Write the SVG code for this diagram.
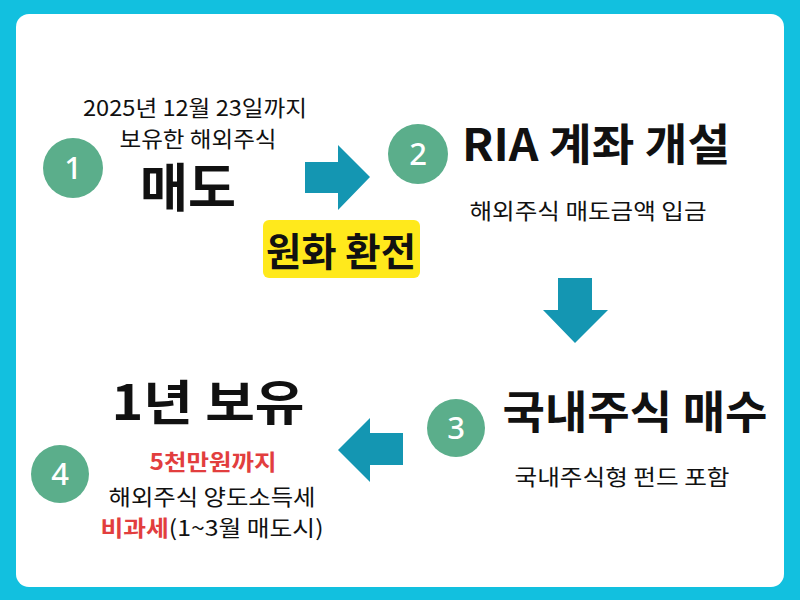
<svg xmlns="http://www.w3.org/2000/svg" width="800" height="600" viewBox="0 0 800 600">
<style>
text{font-family:"Noto Sans CJK KR","Noto Sans",sans-serif;text-anchor:middle;fill:#111}
.num{fill:#fff;font-size:31px;font-weight:500;font-family:"Noto Sans","Noto Sans CJK KR",sans-serif}
.circ{fill:#5BAE8B}
.arrow{fill:#1496B2}
.big{font-weight:700}
.sm{font-size:22px}
.red{fill:#E23E3E;font-weight:700}
</style>
<rect x="0" y="0" width="800" height="600" fill="#12C0DF"/>
<rect x="16" y="14" width="768" height="573" rx="13" fill="#fff"/>
<g id="node1">
<circle class="circ" cx="73" cy="168" r="30"/>
<text class="num" x="73" y="179">1</text>
<text class="sm" x="195" y="116" textLength="224" lengthAdjust="spacingAndGlyphs">2025년 12월 23일까지</text>
<text class="sm" x="198" y="147" textLength="157" lengthAdjust="spacingAndGlyphs">보유한 해외주식</text>
<text class="big" x="188" y="207" font-size="52" textLength="96" lengthAdjust="spacingAndGlyphs">매도</text>
</g>
<g id="node2">
<circle class="circ" cx="418" cy="154" r="30"/>
<text class="num" x="418" y="165">2</text>
<text class="big" x="596" y="161" font-size="44" textLength="268" lengthAdjust="spacingAndGlyphs">RIA 계좌 개설</text>
<text class="sm" x="588" y="219" textLength="237" lengthAdjust="spacingAndGlyphs">해외주식 매도금액 입금</text>
</g>
<g id="node3">
<circle class="circ" cx="456" cy="428" r="29"/>
<text class="num" x="456" y="439">3</text>
<text class="big" x="635" y="429" font-size="45" textLength="265" lengthAdjust="spacingAndGlyphs">국내주식 매수</text>
<text class="sm" x="622" y="485" textLength="215" lengthAdjust="spacingAndGlyphs">국내주식형 펀드 포함</text>
</g>
<g id="node4">
<circle class="circ" cx="60" cy="474" r="29"/>
<text class="num" x="60" y="485">4</text>
<text class="big" x="208" y="420" font-size="48" textLength="193" lengthAdjust="spacingAndGlyphs">1년 보유</text>
<text class="sm red" x="213" y="470" textLength="127" lengthAdjust="spacingAndGlyphs">5천만원까지</text>
<text class="sm" x="212" y="505" textLength="207" lengthAdjust="spacingAndGlyphs">해외주식 양도소득세</text>
<text class="sm" x="212" y="536" textLength="223" lengthAdjust="spacingAndGlyphs"><tspan class="red">비과세</tspan>(1~3월 매도시)</text>
</g>
<g id="exchange">
<rect x="263" y="220" width="157" height="58" rx="6" fill="#FFE91C"/>
<text class="big" x="341" y="266" font-size="39" textLength="150" lengthAdjust="spacingAndGlyphs">원화 환전</text>
</g>
<g id="connectors">
<polygon class="arrow" points="305,162 338,162 338,145 370,177 338,210 338,193 305,193"/>
<polygon class="arrow" points="558,278 592,278 592,310 608,310 575,343 543,310 558,310"/>
<polygon class="arrow" points="403,433 370,433 370,418 338,450 370,482 370,465 403,465"/>
</g>
</svg>
